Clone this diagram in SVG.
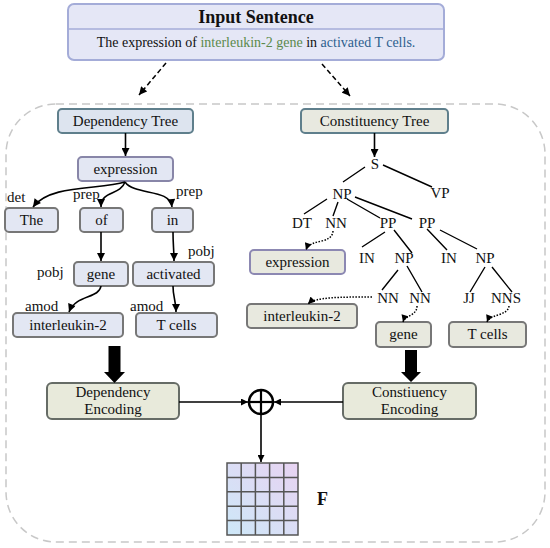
<svg xmlns="http://www.w3.org/2000/svg" width="550" height="548" viewBox="0 0 550 548">
<defs>
<style>
text{font-family:"Liberation Serif","Times New Roman",serif;fill:#111;}
.lbl{font-size:15px;text-anchor:middle;}
.tag{font-size:15px;}
.dnode{fill:#e3e7f3;stroke:#777;stroke-width:2;}
.cnode{fill:#e8e9df;stroke:#777;stroke-width:2;}
.enc{fill:#e8eadb;stroke:#666c66;stroke-width:2;}
.edge{fill:none;stroke:#000;stroke-width:1.6;}
.tline{fill:none;stroke:#000;stroke-width:1.4;}
.dot{fill:none;stroke:#000;stroke-width:1.5;stroke-dasharray:1.5 1.5;}
.grid{fill:none;stroke:#555;stroke-width:1.5;}
</style>
<marker id="ah" viewBox="0 0 10 10" refX="10" refY="5" markerWidth="9" markerHeight="8" markerUnits="userSpaceOnUse" orient="auto">
<path d="M0,0 L10,5 L0,10 z" fill="#000"/>
</marker>
<marker id="ahs" viewBox="0 0 10 10" refX="10" refY="5" markerWidth="8" markerHeight="7" markerUnits="userSpaceOnUse" orient="auto">
<path d="M0,0 L10,5 L0,10 z" fill="#000"/>
</marker>
<linearGradient id="gg" x1="0" y1="1" x2="1" y2="0">
<stop offset="0" stop-color="#cde8f8"/>
<stop offset="1" stop-color="#e8d3f2"/>
</linearGradient>
</defs>

<rect x="6" y="104" width="539" height="438" rx="50" fill="none" stroke="#c8c8c8" stroke-width="1.5" stroke-dasharray="8 5"/>

<g id="input">
<rect x="68" y="4" width="376" height="56" rx="6" fill="#e5e7f6" stroke="#a4acd8" stroke-width="2"/>
<line x1="69" y1="29" x2="443" y2="29" stroke="#a4acd8" stroke-width="1.5"/>
<text x="256" y="23" style="font-size:18px;font-weight:bold;text-anchor:middle;">Input Sentence</text>
<text x="256" y="47" style="font-size:14px;text-anchor:middle;">The expression of <tspan style="fill:#5b8a4b">interleukin-2 gene</tspan> in <tspan style="fill:#2d5f8e">activated T cells.</tspan></text>
</g>

<g id="dep-tree">
<rect x="58" y="109" width="135" height="24" rx="4" fill="#dde4ef" stroke="#5f7f8c" stroke-width="2"/>
<text class="lbl" x="125.5" y="126">Dependency Tree</text>
</g>
<g id="d-expression"><rect class="dnode" x="78" y="157" width="95" height="24" rx="4" style="stroke:#8886a8"/><text class="lbl" x="125.5" y="174">expression</text></g>
<g id="d-the"><rect class="dnode" x="5" y="208" width="53" height="24" rx="4"/><text class="lbl" x="31.5" y="225">The</text></g>
<g id="d-of"><rect class="dnode" x="80" y="208" width="43" height="24" rx="4"/><text class="lbl" x="101.5" y="225">of</text></g>
<g id="d-in"><rect class="dnode" x="152" y="208" width="41" height="24" rx="4"/><text class="lbl" x="172.5" y="225">in</text></g>
<g id="d-gene"><rect class="dnode" x="74" y="262" width="54" height="24" rx="4"/><text class="lbl" x="101" y="279">gene</text></g>
<g id="d-activated"><rect class="dnode" x="133" y="262" width="81" height="24" rx="4"/><text class="lbl" x="173.5" y="279">activated</text></g>
<g id="d-interleukin"><rect class="dnode" x="13" y="313" width="110" height="24" rx="4"/><text class="lbl" x="68" y="330">interleukin-2</text></g>
<g id="d-tcells"><rect class="dnode" x="136" y="313" width="81" height="24" rx="4"/><text class="lbl" x="176.5" y="330">T cells</text></g>

<g id="dep-labels">
<text class="tag" x="7" y="202">det</text>
<text class="tag" x="73" y="199">prep</text>
<text class="tag" x="176" y="196">prep</text>
<text class="tag" x="37" y="277">pobj</text>
<text class="tag" x="188" y="256">pobj</text>
<text class="tag" x="25" y="311">amod</text>
<text class="tag" x="130" y="311">amod</text>
</g>

<g id="con-tree">
<rect x="301" y="109" width="147" height="24" rx="4" fill="#e8e9e0" stroke="#5f7f8c" stroke-width="2"/>
<text class="lbl" x="374.5" y="126">Constituency Tree</text>
</g>
<g id="c-labels">
<text class="lbl" x="375" y="169">S</text>
<text class="lbl" x="342" y="199">NP</text>
<text class="lbl" x="440" y="198">VP</text>
<text class="lbl" x="302" y="228">DT</text>
<text class="lbl" x="336" y="228">NN</text>
<text class="lbl" x="388" y="228">PP</text>
<text class="lbl" x="427" y="228">PP</text>
<text class="lbl" x="367" y="263">IN</text>
<text class="lbl" x="404" y="263">NP</text>
<text class="lbl" x="449" y="263">IN</text>
<text class="lbl" x="485" y="263">NP</text>
<text class="lbl" x="388" y="303">NN</text>
<text class="lbl" x="420" y="303">NN</text>
<text class="lbl" x="469" y="303">JJ</text>
<text class="lbl" x="506" y="303">NNS</text>
</g>
<g id="c-expression"><rect class="cnode" x="250" y="250" width="95" height="24" rx="4" style="stroke:#8c88b2"/><text class="lbl" x="297.5" y="267">expression</text></g>
<g id="c-interleukin"><rect class="cnode" x="247" y="304" width="110" height="24" rx="4"/><text class="lbl" x="302" y="321">interleukin-2</text></g>
<g id="c-gene"><rect class="cnode" x="376" y="322" width="55" height="25" rx="4"/><text class="lbl" x="403.5" y="339">gene</text></g>
<g id="c-tcells"><rect class="cnode" x="449" y="322" width="77" height="25" rx="4"/><text class="lbl" x="487.5" y="339">T cells</text></g>

<g id="dep-enc"><rect class="enc" x="47" y="383" width="132" height="36" rx="5"/><text class="lbl" x="113" y="397">Dependency</text><text class="lbl" x="113" y="414">Encoding</text></g>
<g id="con-enc"><rect class="enc" x="343" y="383" width="133" height="36" rx="5"/><text class="lbl" x="409.5" y="397">Constiuency</text><text class="lbl" x="409.5" y="414">Encoding</text></g>

<g id="oplus">
<circle cx="261" cy="402" r="12" fill="#fff" stroke="#000" stroke-width="2.5"/>
<line x1="249" y1="402" x2="273" y2="402" stroke="#000" stroke-width="2.2"/>
<line x1="261" y1="390" x2="261" y2="414" stroke="#000" stroke-width="2.2"/>
</g>

<g id="feature-F">
<rect x="227" y="463" width="71" height="72" fill="url(#gg)"/>
<path class="grid" d="M227,463 H298 V535 H227 Z M241.2,463 V535 M255.4,463 V535 M269.6,463 V535 M283.8,463 V535 M227,477.4 H298 M227,491.8 H298 M227,506.2 H298 M227,520.6 H298"/>
<text x="317" y="505" style="font-size:18px;font-weight:bold;">F</text>
</g>

<g id="connectors">
<path d="M166,63 L139,95" fill="none" stroke="#000" stroke-width="1.5" stroke-dasharray="5 3" marker-end="url(#ah)"/>
<path d="M322,64 L350,96" fill="none" stroke="#000" stroke-width="1.5" stroke-dasharray="5 3" marker-end="url(#ah)"/>
<path class="edge" d="M125.5,133 V156" marker-end="url(#ah)"/>
<path class="edge" d="M125,182 C 100,190 50,184 33,207" marker-end="url(#ah)"/>
<path class="edge" d="M125,182 C 120,196 101,190 101,207" marker-end="url(#ah)"/>
<path class="edge" d="M125,182 C 135,196 170,188 172,207" marker-end="url(#ah)"/>
<path class="edge" d="M101,232 V261" marker-end="url(#ah)"/>
<path class="edge" d="M173,232 C 173,245 174,250 174,261" marker-end="url(#ah)"/>
<path class="edge" d="M101,286 C 99,299 76,294 69,312" marker-end="url(#ah)"/>
<path class="edge" d="M173,286 C 173,298 176,300 176,312" marker-end="url(#ah)"/>
<path class="edge" d="M374.5,133 V157" marker-end="url(#ah)"/>
<path class="tline" d="M365,167 L343,182 M383,165 L432,187 M327,199 L304,214 M338,202 L333,216 M347,199 L380,218 M355,197 L412,219 M385,232 L362,247 M394,230 L412,253 M427,229 L447,250 M440,230 L477,249 M398,270 L382,290 M407,266 L422,292 M485,267 L470,292 M492,267 L512,292"/>
<path class="dot" d="M333,231 C 332,245 310,238 306,250" marker-end="url(#ahs)"/>
<path class="dot" d="M372,297 C 340,297 315,297 308,304" marker-end="url(#ahs)"/>
<path class="dot" d="M417,306 C 417,316 405,315 403,322" marker-end="url(#ahs)"/>
<path class="dot" d="M509,306 C 508,316 490,314 487,322" marker-end="url(#ahs)"/>
<polygon points="108.5,346 120.5,346 120.5,372 125,372 114.5,383 104,372 108.5,372" fill="#000"/>
<polygon points="405,350 417,350 417,372 421,372 411,382 401,372 405,372" fill="#000"/>
<path class="edge" d="M179,402 H248" marker-end="url(#ahs)"/>
<path class="edge" d="M343,402 H274" marker-end="url(#ahs)"/>
<path class="edge" d="M261,414 V462" marker-end="url(#ahs)"/>
</g>
</svg>
